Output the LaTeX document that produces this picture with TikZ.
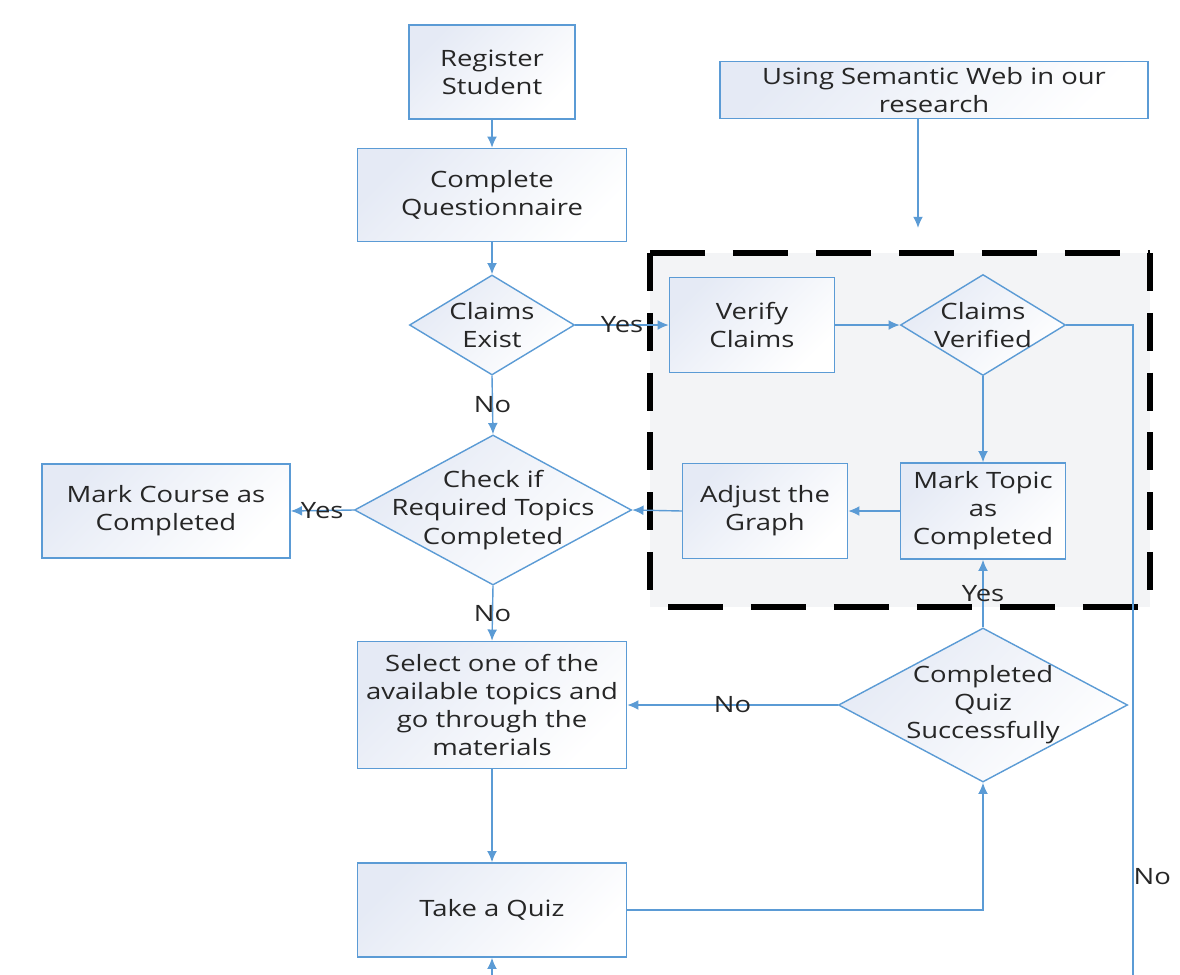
\documentclass[tikz,border=0pt]{standalone}
\usepackage{fontspec}
\setmainfont{Open Sans}[FakeStretch=1.22]
\usetikzlibrary{arrows.meta,shapes.geometric,backgrounds}
\definecolor{flowblue}{HTML}{5B9BD5}
\definecolor{boxtop}{HTML}{E5EAF5}
\definecolor{inktext}{HTML}{262626}
\definecolor{zonegrey}{HTML}{F3F4F6}
\newcommand{\flowfont}{\fontsize{16}{20}\selectfont}
\tikzset{
  step box/.style   = {draw=flowblue, line width=1pt, top color=boxtop,
                       bottom color=white, shading angle=45, align=center,
                       font=\flowfont, text=inktext, inner sep=2pt},
  decision/.style   = {diamond, draw=flowblue, line width=1pt, top color=boxtop,
                       bottom color=white, shading angle=45, inner sep=0pt},
  decision text/.style = {align=center, font=\flowfont, text=inktext},
  flow/.style       = {flowblue, line width=1pt, -{Latex[length=8pt,width=7pt]}},
  flow line/.style  = {flowblue, line width=1pt},
  answer/.style     = {font=\flowfont, text=inktext, inner sep=0pt},
  zone edge/.style  = {draw=black, line width=3.6pt, dash pattern=on 39pt off 20pt},
  zone side/.style  = {draw=black, line width=3.6pt, dash pattern=on 27pt off 15.5pt},
}

\begin{document}
\begin{tikzpicture}[x=0.025cm, y=-0.025cm]
  \useasboundingbox (0,0) rectangle (1180,975);
  % left column
  \node[step box, minimum width=4.15cm, minimum height=2.35cm] (register) at (492,72) {Register\\Student};
  \node[step box, minimum width=6.725cm, minimum height=2.325cm] (questionnaire) at (492,195) {Complete\\Questionnaire};
  \node[decision, minimum width=4.125cm, minimum height=2.5cm,
        label={[decision text]center:Claims\\Exist}] (claimsexist) at (492,325) {};
  \node[decision, minimum width=6.925cm, minimum height=3.75cm,
        label={[decision text]center:Check if\\Required Topics\\Completed}] (check) at (493,510) {};
  \node[step box, minimum width=6.2cm, minimum height=2.35cm] (markcourse) at (166,511) {Mark Course as\\Completed};
  \node[step box, minimum width=6.725cm, minimum height=3.175cm] (select) at (492,705) {Select one of the\\available topics and\\go through the\\materials};
  \node[step box, minimum width=6.725cm, minimum height=2.35cm] (quiz) at (492,910) {Take a Quiz};
  \node[decision, minimum width=7.225cm, minimum height=3.85cm,
        label={[decision text]center:Completed\\Quiz\\Successfully}] (completed) at (983,705) {};

  % semantic web part
  \node[step box, minimum width=10.7cm, minimum height=1.425cm] (semantic) at (934,90) {Using Semantic Web in our\\research};
  \begin{scope}[on background layer]
    \fill[zonegrey] (650,253) rectangle (1150,607);
    \draw[zone edge] (650,253) -- (1150,253);
    \draw[zone edge] (668,607) -- (1140,607);
    \draw[zone side] (650,253) -- (650,607);
    \draw[zone side] (1150,253) -- (1150,600);
  \end{scope}
  \node[step box, minimum width=4.125cm, minimum height=2.375cm] (verify) at (752,325) {Verify\\Claims};
  \node[decision, minimum width=4.125cm, minimum height=2.525cm,
        label={[decision text]center:Claims\\Verified}] (verified) at (983,325) {};
  \node[step box, minimum width=4.125cm, minimum height=2.4cm] (marktopic) at (983,511) {Mark Topic\\as\\Completed};
  \node[step box, minimum width=4.125cm, minimum height=2.375cm] (adjust) at (765,511) {Adjust the\\Graph};

  \coordinate (semin) at (918,228);
  \coordinate (quizin) at (492,975);
  \coordinate (noout) at (1133,975);

  % connectors
  \draw[flow] (register) -- (questionnaire);
  \draw[flow] (questionnaire) -- (claimsexist);
  \draw[flow] (claimsexist.east) -- (verify.west) node[answer, midway] {Yes};
  \draw[flow] (claimsexist.south) -- (check.north) node[answer, midway] {No};
  \draw[flow] (check.west) -- (markcourse.east) node[answer, midway] {Yes};
  \draw[flow] (check.south) -- (select.north) node[answer, midway] {No};
  \draw[flow] (select) -- (quiz);
  \draw[flow] (quizin) -- (quiz.south);
  \draw[flow] (quiz.east) -| (completed.south);
  \draw[flow] (completed.west) -- (select.east) node[answer, midway] {No};
  \draw[flow] (completed.north) -- (marktopic.south) node[answer, midway] {Yes};
  \draw[flow] (semantic.south -| semin) -- (semin);
  \draw[flow] (verify) -- (verified.west);
  \draw[flow] (verified.south) -- (marktopic.north);
  \draw[flow] (marktopic) -- (adjust);
  \draw[flow] (adjust.west) -- (check.east);
  \draw[flow line] (verified.east) -| (noout) node[answer, pos=0.924, right] {No};
\end{tikzpicture}
\end{document}
